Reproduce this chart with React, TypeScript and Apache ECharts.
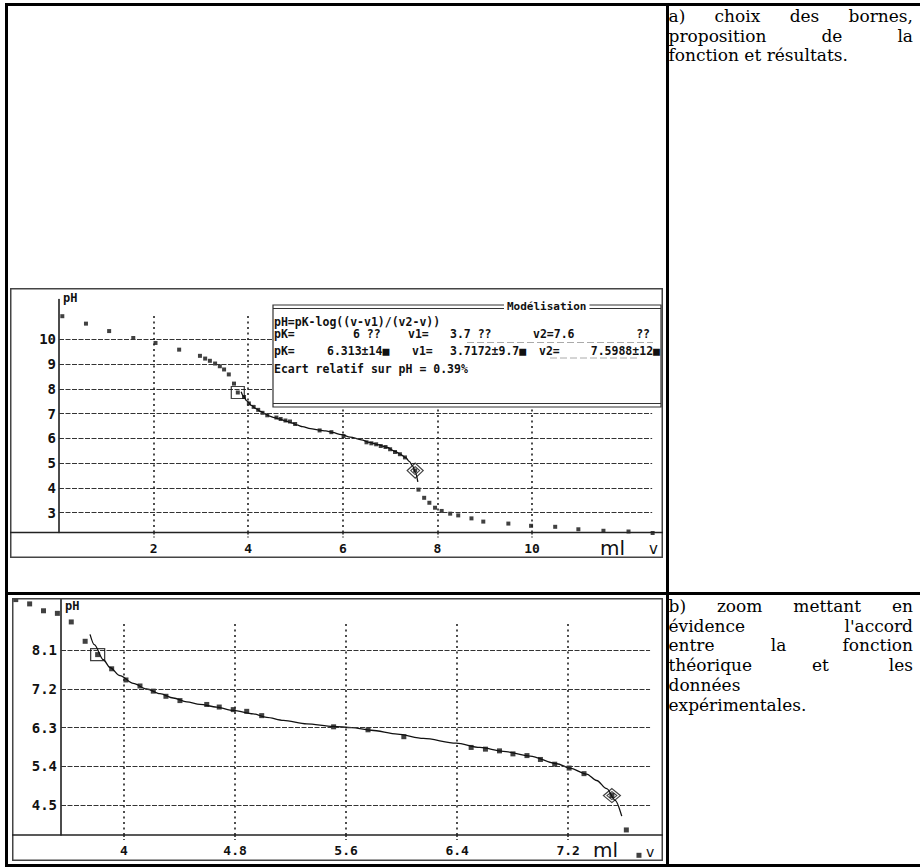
import React, { useEffect, useRef } from "react";
import * as echarts from "echarts";

// ---------- tick labels ----------
const topXTicks = [2, 4, 6, 8, 10];
const topYTicks = [3, 4, 5, 6, 7, 8, 9, 10];
const zoomXTicks = [4, 4.8, 5.6, 6.4, 7.2];
const zoomYTicks = [4.5, 5.4, 6.3, 7.2, 8.1];

// ---------- experimental points (v in ml, pH) ----------
const topLeftPoints = [
  [0.07, 10.93], [0.57, 10.63], [1.06, 10.33], [1.57, 10.05], [2.04, 9.85], [2.54, 9.58],
  [2.98, 9.33], [3.09, 9.22], [3.19, 9.13], [3.3, 9.02], [3.4, 8.91], [3.49, 8.78], [3.59, 8.58], [3.7, 8.21],
];
const midPoints = [
  [3.911, 7.67], [4.014, 7.41], [4.115, 7.27], [4.211, 7.15], [4.302, 7.03], [4.403, 6.93],
  [4.596, 6.84], [4.686, 6.78], [4.787, 6.72], [4.884, 6.68], [4.992, 6.58], [5.51, 6.32],
  [5.758, 6.25], [6.016, 6.09], [6.501, 5.84], [6.604, 5.8], [6.705, 5.76], [6.802, 5.69],
  [6.903, 5.65], [7.0, 5.56], [7.103, 5.45], [7.207, 5.36], [7.314, 5.23],
];
const topRightPoints = [
  [7.6, 3.93], [7.72, 3.6], [7.83, 3.4], [7.95, 3.2], [8.09, 3.07], [8.27, 2.96], [8.44, 2.89],
  [8.72, 2.77], [8.97, 2.64], [9.5, 2.56], [9.98, 2.47], [10.49, 2.43], [10.98, 2.33],
  [11.51, 2.27], [12.04, 2.24], [12.55, 2.18],
];
const zoomLeftPoints = [[3.22, 9.28], [3.32, 9.18], [3.42, 9.02], [3.52, 8.96], [3.62, 8.76], [3.72, 8.31]];
const zoomRightPoints = [[7.619, 3.92], [7.71, 3.33]];

// bounds chosen (square = v1 side, diamond = v2 side)
const topBounds = [[3.78, 7.85], [7.53, 4.7]];
const zoomBounds = [[3.81, 8.0], [7.515, 4.72]];

// fitted curve
const fitCurve = [
  [3.755, 8.47], [3.786, 8.23], [3.851, 7.88], [3.899, 7.7], [3.971, 7.51], [4.067, 7.33],
  [4.163, 7.2], [4.259, 7.09], [4.355, 6.99], [4.452, 6.9], [4.547, 6.84], [4.668, 6.78],
  [4.787, 6.7], [4.931, 6.62], [5.028, 6.54], [5.148, 6.47], [5.316, 6.39], [5.508, 6.33],
  [5.64, 6.3], [5.781, 6.24], [5.97, 6.15], [6.157, 6.05], [6.393, 5.94], [6.564, 5.84],
  [6.732, 5.75], [6.925, 5.64], [7.118, 5.46], [7.212, 5.36], [7.333, 5.22], [7.405, 5.07],
  [7.478, 4.88], [7.538, 4.61], [7.586, 4.24],
];

const topTextLines = [
  { t: "a) choix des bornes,", j: true },
  { t: "proposition de la", j: true },
  { t: "fonction et résultats.", j: false },
];
const bottomTextLines = [
  { t: "b) zoom mettant en", j: true },
  { t: "évidence l'accord", j: true },
  { t: "entre la fonction", j: true },
  { t: "théorique et les", j: true },
  { t: "données", j: false },
  { t: "expérimentales.", j: false },
];

const MONO = '"DejaVu Sans Mono", monospace';

function buildOption(c: any) {
  const hLines = c.yTicks.map((y: number) => [
    { coord: [c.xMin, y], lineStyle: { type: [5, 1.5], width: 1, color: "#333" } },
    { coord: [c.hEnd, y] },
  ]);
  const vLines = c.xTicks.map((x: number) => [
    { coord: [x, c.yMin], lineStyle: { type: [2, 3.5], width: 1.6, color: "#222" } },
    { coord: [x, c.vTop] },
  ]);
  return {
    animation: false,
    grid: c.grid,
    xAxis: {
      type: "value",
      min: c.xMin,
      max: c.xMax,
      axisLine: { show: false },
      splitLine: { show: false },
      axisTick: {
        show: true,
        customValues: c.xTicks,
        length: 5,
        lineStyle: { type: [2, 2], color: "#222", width: 1.5 },
      },
      axisLabel: {
        customValues: c.xTicks,
        margin: c.xLabelMargin,
        fontFamily: MONO,
        fontWeight: "bold",
        fontSize: 13,
        color: "#111",
      },
    },
    yAxis: {
      type: "value",
      min: c.yMin,
      max: c.yMax,
      axisLine: { show: true, onZero: false, lineStyle: { color: "#111", width: 1.5 } },
      axisTick: { show: false },
      splitLine: { show: false },
      axisLabel: {
        customValues: c.yTicks,
        margin: c.yLabelMargin,
        fontFamily: MONO,
        fontWeight: "bold",
        fontSize: 14,
        color: "#111",
      },
    },
    series: [
      {
        type: "line",
        data: [],
        z: 1,
        silent: true,
        markLine: {
          silent: true,
          symbol: ["none", "none"],
          label: { show: false },
          data: [...hLines, ...vLines],
        },
      },
      {
        type: "line",
        data: c.curve,
        showSymbol: false,
        smooth: 0.3,
        smoothMonotone: "x",
        clip: false,
        z: 3,
        lineStyle: { color: "#111", width: 1.3 },
      },
      {
        type: "scatter",
        data: c.points,
        symbol: "rect",
        symbolSize: c.symbolSize,
        clip: false,
        z: 4,
        itemStyle: { color: "#111" },
      },
      {
        type: "scatter",
        data: [c.bounds[0]],
        symbol: "rect",
        symbolSize: c.boxSize,
        clip: false,
        z: 5,
        itemStyle: { color: "rgba(0,0,0,0)", borderColor: "#111", borderWidth: 1.2 },
      },
      {
        type: "scatter",
        data: [c.bounds[1]],
        symbol: "diamond",
        symbolSize: c.diamondSize,
        clip: false,
        z: 5,
        itemStyle: { color: "rgba(0,0,0,0)", borderColor: "#111", borderWidth: 1.2 },
      },
      {
        type: "scatter",
        data: [c.bounds[1]],
        symbol: "diamond",
        symbolSize: c.innerDiamond,
        clip: false,
        z: 5,
        itemStyle: { color: "rgba(0,0,0,0)", borderColor: "#111", borderWidth: 1 },
      },
    ],
    graphic: c.graphic,
  };
}

function txt(x: number, y: number, text: string, font: string, extra: any = {}) {
  return {
    type: "text",
    x,
    y,
    z: 110,
    silent: true,
    style: { text, font, fill: "#111", verticalAlign: "middle", ...extra },
  };
}

const boxFont = `bold 11.5px ${MONO}`;

const topGraphic = [
  { type: "rect", z: 100, silent: true, shape: { x: 0.75, y: 0.75, width: 651.5, height: 268.5 }, style: { fill: "none", stroke: "#444", lineWidth: 1.5 } },
  { type: "line", z: 100, silent: true, shape: { x1: 0, y1: 244.5, x2: 653, y2: 244.5 }, style: { stroke: "#222", lineWidth: 1.5 } },
  txt(53, 10, "pH", `bold 12px ${MONO}`),
  txt(590, 259.5, "ml", '20px "DejaVu Sans"'),
  txt(639, 261, "v", '15px "DejaVu Sans"'),
  // Modélisation window
  { type: "rect", z: 105, silent: true, shape: { x: 263, y: 17, width: 388, height: 102 }, style: { fill: "#fff", stroke: "#333", lineWidth: 1.2 } },
  { type: "line", z: 106, silent: true, shape: { x1: 263, y1: 20.5, x2: 651, y2: 20.5 }, style: { stroke: "#333", lineWidth: 1 } },
  { type: "line", z: 106, silent: true, shape: { x1: 263, y1: 115.5, x2: 651, y2: 115.5 }, style: { stroke: "#333", lineWidth: 1 } },
  { type: "line", z: 106, silent: true, shape: { x1: 457, y1: 54.5, x2: 643, y2: 54.5 }, style: { stroke: "#aaa", lineWidth: 1, lineDash: [7, 3] } },
  { type: "line", z: 106, silent: true, shape: { x1: 540, y1: 70, x2: 627, y2: 70 }, style: { stroke: "#aaa", lineWidth: 1, lineDash: [7, 3] } },
  txt(494, 18.8, "Modélisation", `bold 11px ${MONO}`, { backgroundColor: "#fff", padding: [1, 3] }),
  txt(264, 33.6, "pH=pK-log((v-v1)/(v2-v))", boxFont),
  txt(264, 46.2, "pK=", boxFont),
  txt(343, 46.2, "6 ??", boxFont),
  txt(398, 46.2, "v1=", boxFont),
  txt(440, 46.2, "3.7 ??", boxFont),
  txt(523, 46.2, "v2=7.6", boxFont),
  txt(640, 46.2, "??", boxFont, { align: "right" }),
  txt(264, 63, "pK=", boxFont),
  txt(317, 63, "6.313±14■", boxFont),
  txt(402, 63, "v1=", boxFont),
  txt(440, 63, "3.7172±9.7■", boxFont),
  txt(529, 63, "v2=", boxFont),
  txt(650, 63, "7.5988±12■", boxFont, { align: "right" }),
  txt(264, 81, "Ecart relatif sur pH = 0.39%", boxFont),
];

const zoomGraphic = [
  { type: "rect", z: 100, silent: true, shape: { x: 0.75, y: 0.75, width: 649.5, height: 261.5 }, style: { fill: "none", stroke: "#444", lineWidth: 1.5 } },
  { type: "line", z: 100, silent: true, shape: { x1: 0, y1: 237.1, x2: 651, y2: 237.1 }, style: { stroke: "#222", lineWidth: 1.5 } },
  txt(53, 8, "pH", `bold 12px ${MONO}`),
  txt(581, 251.5, "ml", '20px "DejaVu Sans"'),
  txt(634, 254, "v", '14px "DejaVu Sans"'),
];

const topCfg = {
  xMin: 0, xMax: 12.6, yMin: 2.2, yMax: 11.6,
  grid: { left: 49, right: 8, top: 11.6, bottom: 25.5 },
  xTicks: topXTicks, yTicks: topYTicks,
  hEnd: 12.54, vTop: 10.95,
  xLabelMargin: 9, yLabelMargin: 3,
  points: [...topLeftPoints, ...topBounds, ...midPoints, ...topRightPoints],
  curve: fitCurve.filter((p) => p[1] <= 7.9),
  bounds: topBounds,
  symbolSize: 4, boxSize: [13, 12], diamondSize: [16, 15], innerDiamond: [9, 8],
  graphic: topGraphic,
};

const zoomCfg = {
  xMin: 3.546, xMax: 7.85, yMin: 3.8, yMax: 9.3,
  grid: { left: 49, right: 4.6, top: 0.74, bottom: 25.9 },
  xTicks: zoomXTicks, yTicks: zoomYTicks,
  hEnd: 7.79, vTop: 8.77,
  xLabelMargin: 8.5, yLabelMargin: 4,
  points: [...zoomLeftPoints, ...zoomBounds, ...midPoints, ...zoomRightPoints],
  curve: fitCurve,
  bounds: zoomBounds,
  symbolSize: 5, boxSize: [14, 12], diamondSize: [17, 14], innerDiamond: [10, 8],
  graphic: zoomGraphic,
};

const bar = (left: number, top: number, width: number, height: number): React.CSSProperties => ({
  position: "absolute",
  left,
  top,
  width,
  height,
  background: "#000",
});

const textStyle: React.CSSProperties = {
  position: "absolute",
  left: 668.5,
  width: 244.5,
  fontFamily: '"DejaVu Serif", serif',
  fontSize: 17,
  lineHeight: "19.8px",
  color: "#000",
};

function TextLines({ lines, top }: { lines: { t: string; j: boolean }[]; top: number }) {
  return (
    <div style={{ ...textStyle, top }}>
      {lines.map((l, i) => (
        <div
          key={i}
          style={{
            textAlign: l.j ? "justify" : "left",
            textAlignLast: l.j ? "justify" : "left",
            whiteSpace: "nowrap",
          }}
        >
          {l.t}
        </div>
      ))}
    </div>
  );
}

export default function App() {
  const topRef = useRef<HTMLDivElement>(null);
  const zoomRef = useRef<HTMLDivElement>(null);

  useEffect(() => {
    const c1 = echarts.init(topRef.current!, null, { renderer: "svg" });
    c1.setOption(buildOption(topCfg));
    const c2 = echarts.init(zoomRef.current!, null, { renderer: "svg" });
    c2.setOption(buildOption(zoomCfg));
    return () => {
      c1.dispose();
      c2.dispose();
    };
  }, []);

  return (
    <div style={{ position: "absolute", left: 0, top: 0, width: 920, height: 867, background: "#fff", overflow: "hidden" }}>
      <div style={bar(5, 3, 915, 2.5)} />
      <div style={bar(5, 3, 2.5, 863)} />
      <div style={bar(666, 3, 2.5, 863)} />
      <div style={bar(5, 592, 915, 2.5)} />
      <div style={bar(5, 864, 915, 2.5)} />
      <div ref={topRef} style={{ position: "absolute", left: 10, top: 288, width: 653, height: 270 }} />
      <div ref={zoomRef} style={{ position: "absolute", left: 12, top: 598, width: 651, height: 263 }} />
      <TextLines lines={topTextLines} top={6.8} />
      <TextLines lines={bottomTextLines} top={596.8} />
    </div>
  );
}
